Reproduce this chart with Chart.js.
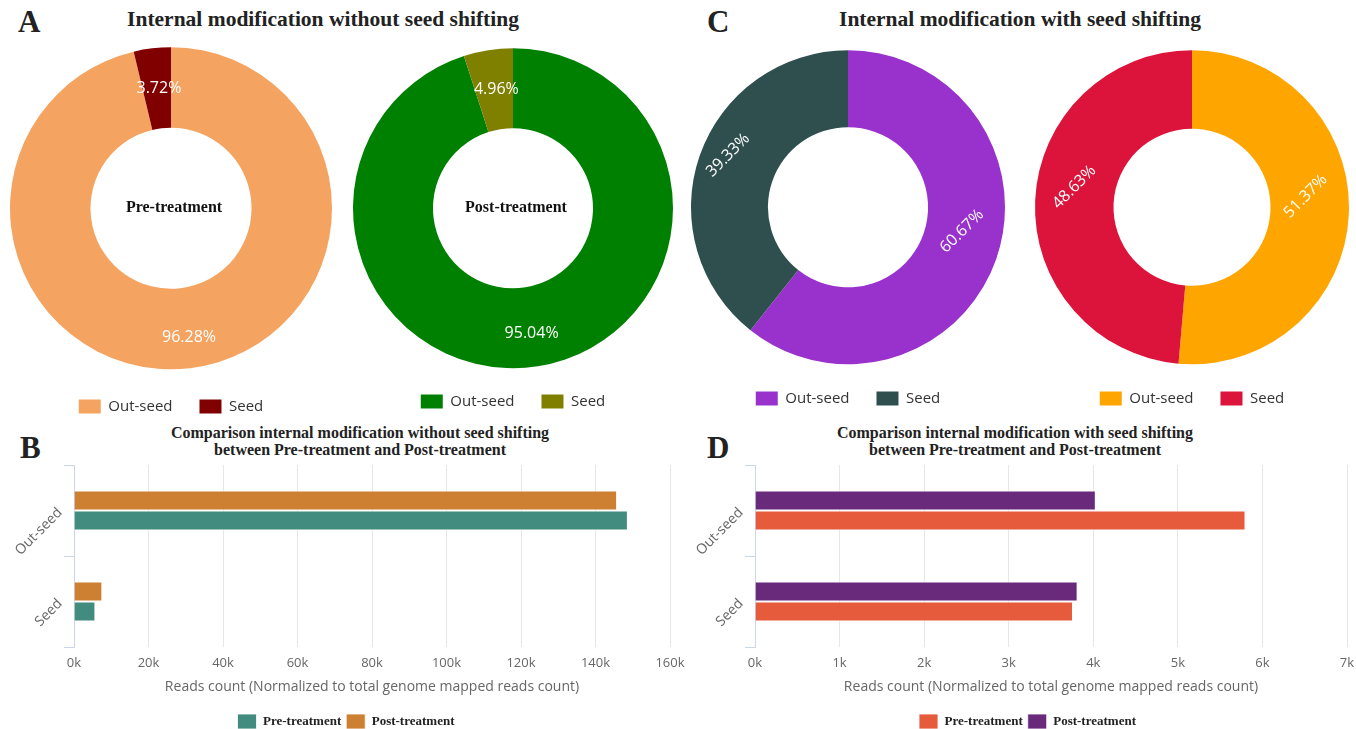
<!DOCTYPE html>
<html>
<head>
<meta charset="utf-8">
<script src="https://cdn.jsdelivr.net/npm/chart.js@4.4.1/dist/chart.umd.min.js"></script>
<style>
  html, body { margin: 0; padding: 0; background: #fff; }
  body { width: 1356px; height: 729px; overflow: hidden; position: relative; }
  canvas { position: absolute; }
  .txt { position: absolute; white-space: nowrap; font-family: "Liberation Serif", "Times New Roman", serif; font-weight: bold; color: #222; }
  .letter { font-size: 31px; line-height: 31px; }
  .main { font-size: 21.5px; line-height: 22px; width: 600px; text-align: center; }
  .sub { font-size: 16px; line-height: 17px; width: 600px; text-align: center; }
</style>
</head>
<body>
<div class="txt letter" style="left:18px;top:6px">A</div>
<div class="txt main" style="left:23px;top:8px">Internal modification without seed shifting</div>
<div class="txt letter" style="left:707px;top:6px">C</div>
<div class="txt main" style="left:720px;top:8px">Internal modification with seed shifting</div>
<div class="txt letter" style="left:20px;top:432px">B</div>
<div class="txt sub" style="left:60px;top:424px">Comparison internal modification without seed shifting<br>between Pre-treatment and Post-treatment</div>
<div class="txt letter" style="left:707px;top:432px">D</div>
<div class="txt sub" style="left:715px;top:424px">Comparison internal modification with seed shifting<br>between Pre-treatment and Post-treatment</div>

<canvas id="donutA1"></canvas>
<canvas id="donutA2"></canvas>
<canvas id="donutC1"></canvas>
<canvas id="donutC2"></canvas>
<canvas id="barsB"></canvas>
<canvas id="barsD"></canvas>

<script>
// Share of modified reads by location (percent)
const sliceLabels = ['Out-seed', 'Seed'];
const noShiftPre = [96.28, 3.72];
const noShiftPost = [95.04, 4.96];
const shiftPre = [60.67, 39.33];
const shiftPost = [51.37, 48.63];

// Normalized read counts per location
const groupNames = ['Pre-treatment', 'Post-treatment'];
const barCategories = ['Out-seed', 'Seed'];
const readsNoShiftPre = [148700, 5750];
const readsNoShiftPost = [145800, 7610];
const readsShiftPre = [5800, 3760];
const readsShiftPost = [4030, 3815];
const axisTitle = 'Reads count (Normalized to total genome mapped reads count)';

// Percent labels placed near the middle of each ring slice
const sliceValueLabels = {
  id: 'sliceValueLabels',
  afterDatasetsDraw(chart, args, opts) {
    const ctx = chart.ctx;
    const meta = chart.getDatasetMeta(0);
    const values = chart.data.datasets[0].data;
    const nudge = opts.nudge || [];
    ctx.save();
    ctx.font = '16px "Open Sans"';
    ctx.fillStyle = '#ffffff';
    ctx.textAlign = 'center';
    ctx.textBaseline = 'middle';
    meta.data.forEach((arc, i) => {
      const p = arc.getProps(['x', 'y', 'startAngle', 'endAngle', 'innerRadius', 'outerRadius'], true);
      const mid = (p.startAngle + p.endAngle) / 2;
      const r = (p.innerRadius + p.outerRadius) / 2;
      const n = nudge[i] || [0, 0];
      ctx.save();
      ctx.translate(p.x + Math.cos(mid) * r + n[0], p.y + Math.sin(mid) * r + n[1]);
      ctx.rotate((opts.rotation || 0) * Math.PI / 180);
      ctx.fillText(values[i].toFixed(2) + '%', 0, 0);
      ctx.restore();
    });
    ctx.restore();
  }
};

// Caption inside the doughnut hole
const centreText = {
  id: 'centreText',
  afterDraw(chart, args, opts) {
    if (!opts.text) return;
    const ctx = chart.ctx;
    const a = chart.chartArea;
    ctx.save();
    ctx.font = 'bold 16px "Liberation Serif"';
    ctx.fillStyle = '#111';
    ctx.textAlign = 'center';
    ctx.textBaseline = 'middle';
    ctx.fillText(opts.text, (a.left + a.right) / 2 + 3, (a.top + a.bottom) / 2);
    ctx.restore();
  }
};

// Moves the legend sideways after layout so it can be centred independently of the plot
const legendShift = {
  id: 'legendShift',
  afterLayout(chart, args, opts) {
    if (opts.dx && chart.legend) {
      chart.legend.left += opts.dx;
      chart.legend.right += opts.dx;
    }
  }
};

function drawDonut(id, spec) {
  const fontSize = 15, itemH = 15, gap = 27;
  const legendTop = spec.legendY - gap - itemH / 2;
  const padTop = 2 * spec.cy - legendTop;
  const h = Math.round(legendTop + itemH + gap + 10);
  const cv = document.getElementById(id);
  cv.width = 342; cv.height = h;
  cv.style.width = '342px'; cv.style.height = h + 'px';
  cv.style.left = (spec.cx - 171) + 'px'; cv.style.top = '0px';
  new Chart(cv, {
    type: 'doughnut',
    data: {
      labels: sliceLabels,
      datasets: [{ data: spec.values, backgroundColor: spec.colors, borderWidth: 0 }]
    },
    options: {
      responsive: false,
      animation: false,
      radius: spec.r,
      cutout: spec.cutout,
      layout: { padding: { top: padTop, bottom: 0, left: 0, right: 0 } },
      plugins: {
        legend: {
          position: 'bottom',
          labels: { boxWidth: 22, boxHeight: 14, padding: gap, color: '#333', font: { family: 'Open Sans', size: fontSize } }
        },
        tooltip: { enabled: false },
        sliceValueLabels: { rotation: spec.rot, nudge: spec.nudge },
        centreText: { text: spec.centre }
      }
    },
    plugins: [sliceValueLabels, centreText]
  });
}

function drawBars(id, spec) {
  const cv = document.getElementById(id);
  const h = 294;
  cv.width = spec.w; cv.height = h;
  cv.style.width = spec.w + 'px'; cv.style.height = h + 'px';
  cv.style.left = spec.left + 'px'; cv.style.top = '445px';
  new Chart(cv, {
    type: 'bar',
    data: {
      labels: barCategories,
      datasets: [
        { label: groupNames[1], data: spec.post, backgroundColor: spec.postColor, borderColor: 'rgba(255,255,255,0.8)', borderWidth: 1 },
        { label: groupNames[0], data: spec.pre, backgroundColor: spec.preColor, borderColor: 'rgba(255,255,255,0.8)', borderWidth: 1 }
      ]
    },
    options: {
      indexAxis: 'y',
      responsive: false,
      animation: false,
      layout: { padding: { top: 20, left: 0, right: spec.padR, bottom: 0 } },
      datasets: { bar: { barPercentage: 1, categoryPercentage: 0.44 } },
      scales: {
        x: {
          min: 0, max: spec.max,
          ticks: { stepSize: spec.step, padding: 8, color: '#666', font: { family: 'Open Sans', size: 13 }, callback: v => (v / 1000) + 'k' },
          grid: { color: '#e6e6e6', drawTicks: false },
          border: { display: false },
          title: { display: true, text: axisTitle, color: '#666', font: { family: 'Open Sans', size: 14 }, padding: { top: 0, bottom: 14 } },
          afterFit: s => { s.height = 62; }
        },
        y: {
          ticks: { color: '#666', font: { family: 'Open Sans', size: 14 }, minRotation: 45, maxRotation: 45, padding: 4 },
          grid: { offset: true, drawOnChartArea: false, tickLength: 10, color: '#ccd6eb' },
          border: { color: '#ccd6eb' },
          afterFit: s => { s.width = spec.yW; }
        }
      },
      plugins: {
        legend: {
          position: 'bottom', reverse: true,
          labels: { boxWidth: 19, boxHeight: 15, padding: 5, color: '#222', font: { family: 'Liberation Serif', size: 13, weight: 'bold' } }
        },
        legendShift: { dx: spec.legendDx },
        tooltip: { enabled: false }
      }
    },
    plugins: [legendShift]
  });
}

drawDonut('donutA1', { cx: 171, cy: 208, r: 161, cutout: '50%', legendY: 406, values: noShiftPre, colors: ['#F4A460', '#800000'], rot: 0, nudge: [[4, 9], [2, 0]], centre: 'Pre-treatment' });
drawDonut('donutA2', { cx: 513, cy: 208, r: 160, cutout: '50%', legendY: 401, values: noShiftPost, colors: ['#008000', '#808000'], rot: 0, nudge: [[0, 7], [2, 0]], centre: 'Post-treatment' });
drawDonut('donutC1', { cx: 848, cy: 207, r: 157, cutout: '51%', legendY: 398, values: shiftPre, colors: ['#9932CC', '#2F4F4F'], rot: -45, nudge: [[2, -15], [-8, -13]], centre: '' });
drawDonut('donutC2', { cx: 1192, cy: 207, r: 157, cutout: '50%', legendY: 398, values: shiftPost, colors: ['#FFA500', '#DC143C'], rot: -45, nudge: [[-4, -16], [0, -15]], centre: '' });

drawBars('barsB', { left: 0, w: 720, padR: 50, yW: 74, legendDx: 11, max: 160000, step: 20000, pre: readsNoShiftPre, post: readsNoShiftPost, preColor: '#418C7E', postColor: '#CD7F32' });
drawBars('barsD', { left: 690, w: 680, padR: 23, yW: 65, legendDx: 9, max: 7000, step: 1000, pre: readsShiftPre, post: readsShiftPost, preColor: '#E55B3C', postColor: '#6A2A7C' });
</script>
</body>
</html>
